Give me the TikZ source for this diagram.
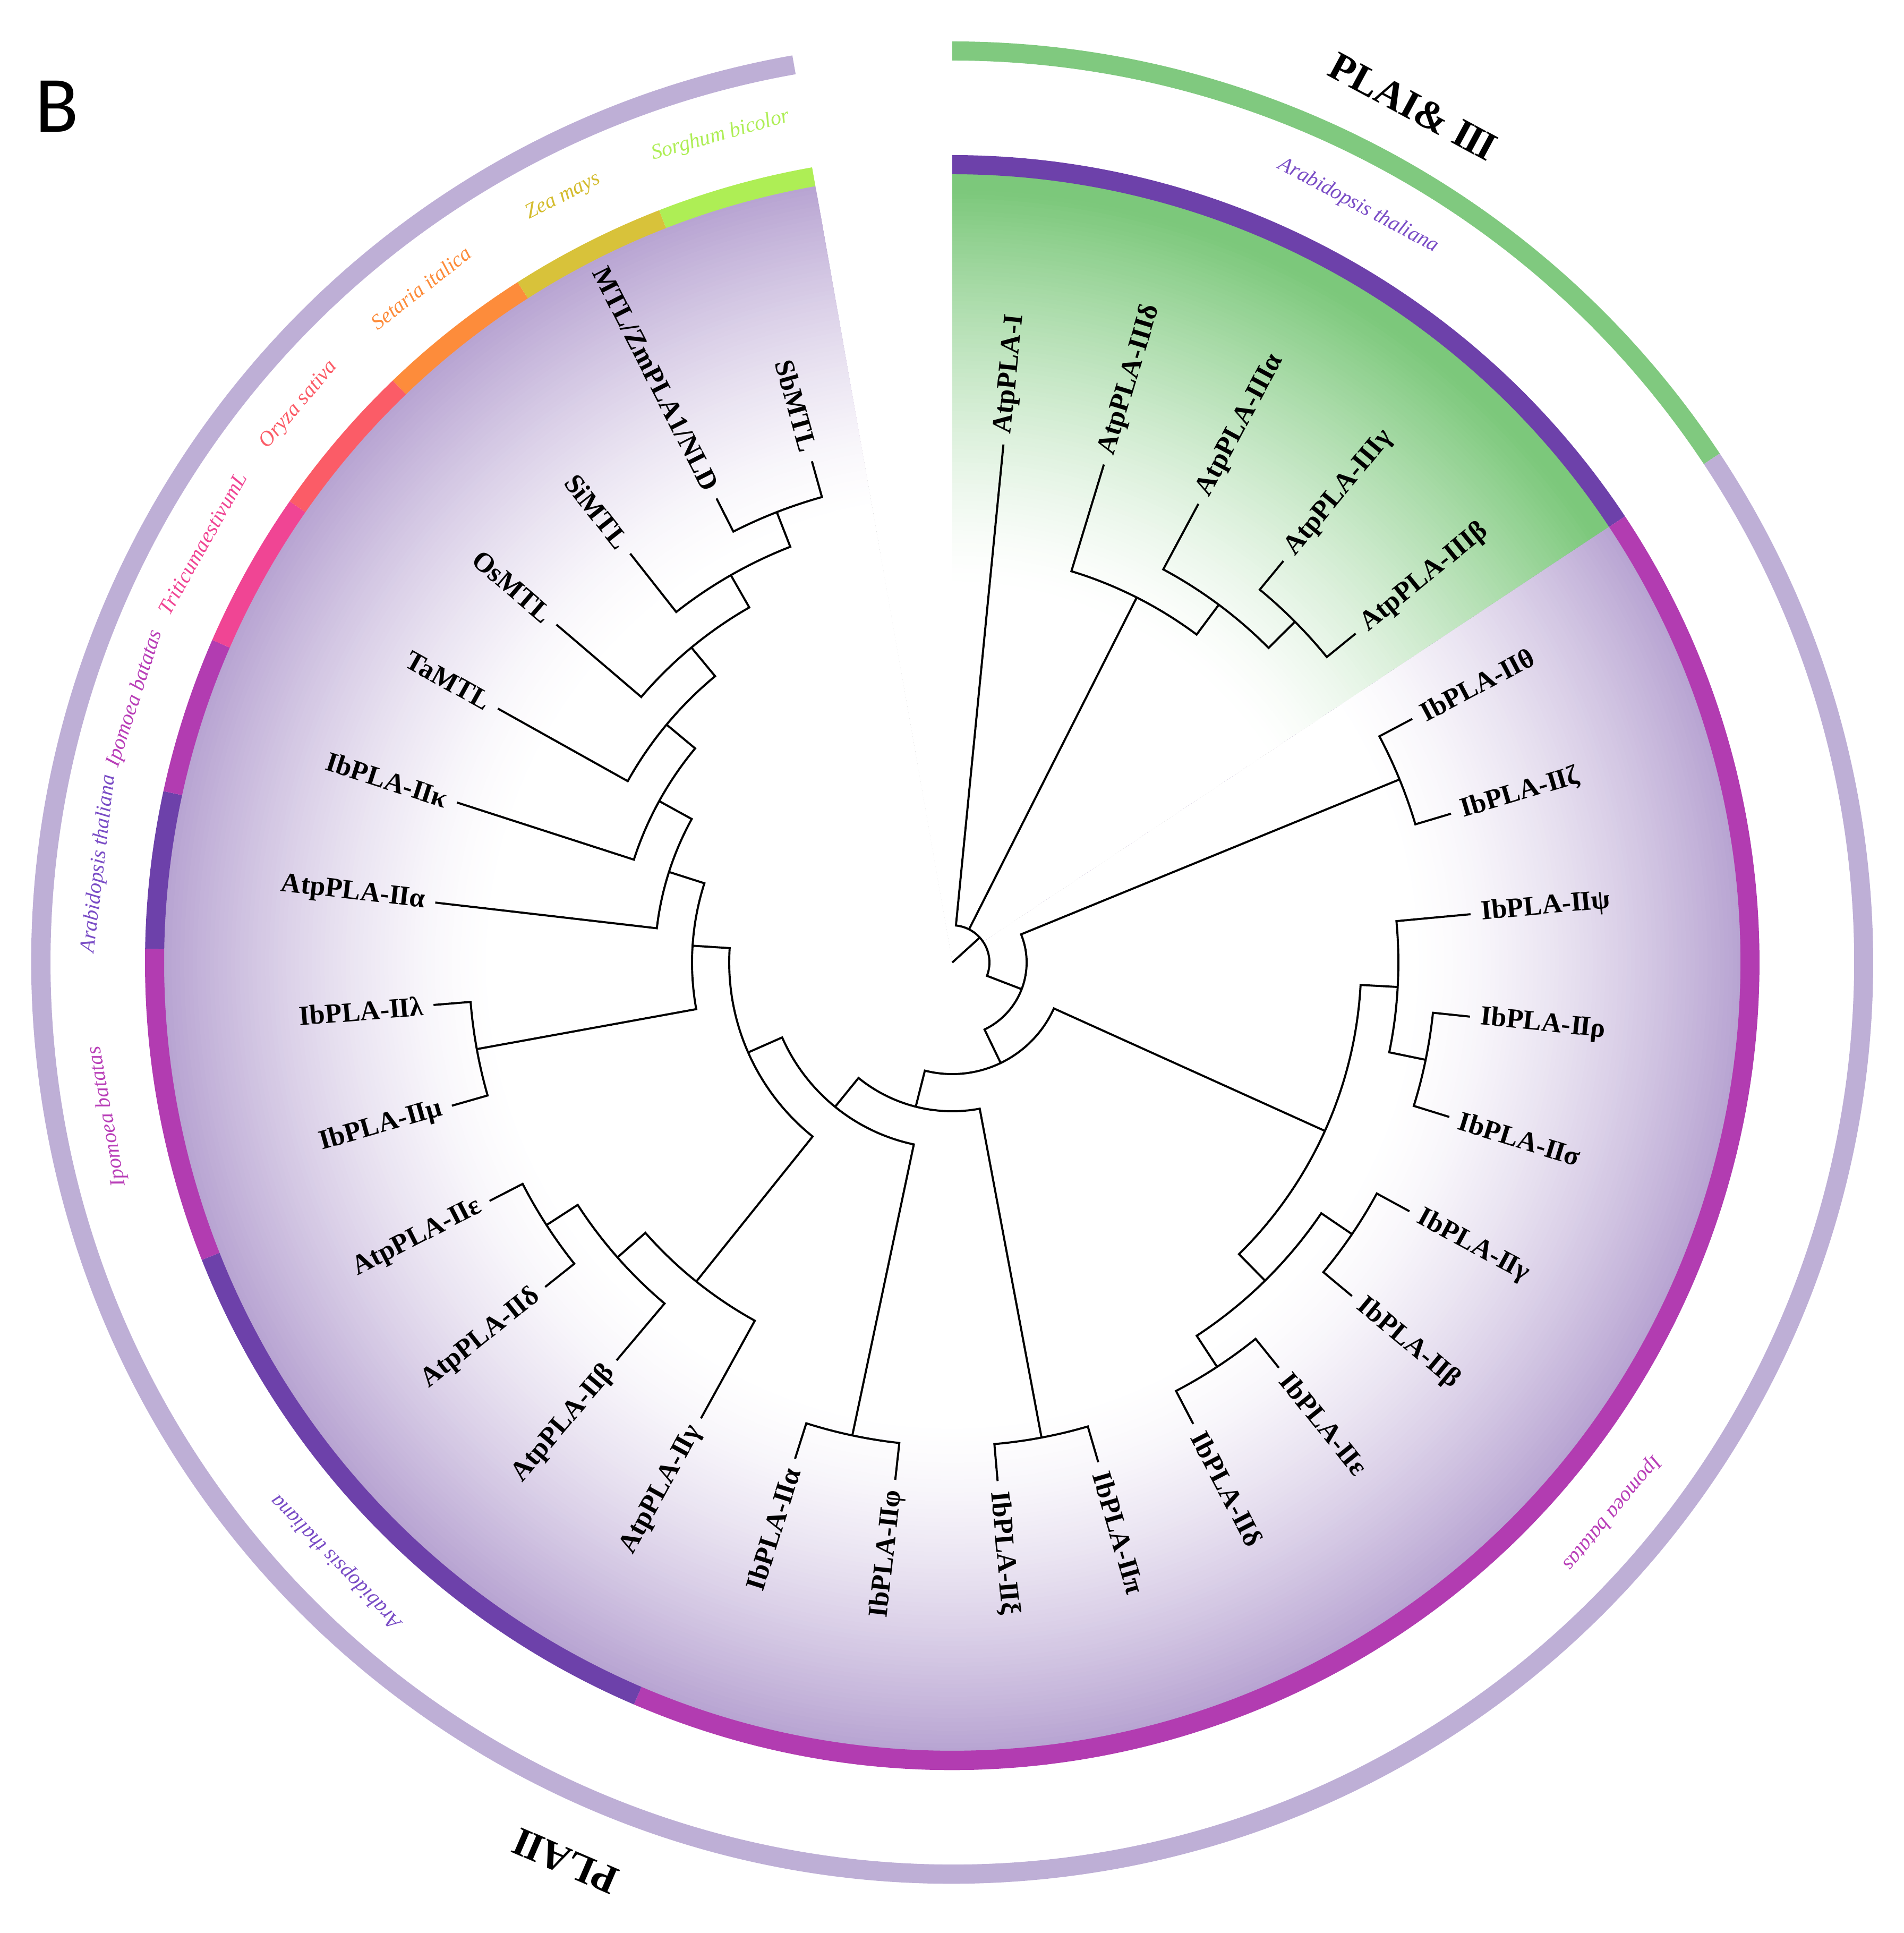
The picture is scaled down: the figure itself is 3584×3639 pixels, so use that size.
\documentclass[tikz,border=0pt]{standalone}
\usepackage{fontspec}
\setmainfont{Liberation Serif}
\newfontfamily\bfont{Carlito}

\definecolor{cAra}{HTML}{6D41AA}
\definecolor{cIpo}{HTML}{B23CB1}
\definecolor{cTri}{HTML}{F04594}
\definecolor{cOry}{HTML}{FB5C67}
\definecolor{cSet}{HTML}{FD8C3B}
\definecolor{cZea}{HTML}{D8C23A}
\definecolor{cSor}{HTML}{AEEE55}
\definecolor{cOutG}{HTML}{80C97F}
\definecolor{cOutP}{HTML}{BEAFD6}
\definecolor{cFillG}{HTML}{7CC87B}
\definecolor{cFillP}{HTML}{B8A4D2}
\definecolor{tAra}{HTML}{7A4DC6}
\definecolor{tIpo}{HTML}{B93FB8}
\definecolor{tZea}{HTML}{D4BC2E}

\newcommand\RomII{I\kern-0.05em I}
\newcommand\RomIII{I\kern-0.05em I\kern-0.05em I}
\newcommand\leaffont{\bfseries\fontsize{52}{60}\selectfont}
\newcommand\ringfont{\itshape\fontsize{40}{48}\selectfont}
\newcommand\bigfont{\bfseries\fontsize{76}{90}\selectfont}

% clade: angle1, radius1 (end of child 1), angle2, radius2, node radius
\newcommand\clade[5]{\draw[tree] (#1:#2) -- (#1:#5) arc[start angle=#1, end angle=#3, radius=#5] -- (#3:#4);}
% annular sector: colour, a1, a2, r_in, r_out
\newcommand\annseg[5]{\fill[#1] (#2:#4) arc[start angle=#2, end angle=#3, radius=#4] -- (#3:#5) arc[start angle=#3, end angle=#2, radius=#5] -- cycle;}

\tikzset{
  tree/.style={line width=3.9pt, line join=miter, line cap=butt, black},
  lblR/.style={anchor=west, inner sep=0pt, font=\leaffont},
  lblL/.style={anchor=east, inner sep=0pt, font=\leaffont},
  ringlbl/.style={anchor=center, inner sep=0pt, font=\ringfont},
  biglbl/.style={anchor=center, inner sep=0pt, font=\bigfont}
}

\begin{document}
\begin{tikzpicture}[x=1pt, y=1pt]
\useasboundingbox (-1793,-1827) rectangle (1791,1812);

% ---------- background sectors (radial fades built from rings) ----------
\begin{scope}
  \clip (0,0) -- (90:1486) arc[start angle=90, end angle=33.548, radius=1486] -- cycle;
  \foreach \k in {0,...,98} {
    \pgfmathsetmacro\rr{1486-8*\k}
    \pgfmathsetmacro\ff{min(100,100*pow(max(0,(\rr/1486-0.48)/0.5),1.4))}
    \fill[cFillG!\ff!white] (0,0) circle (\rr);
  }
\end{scope}
\begin{scope}
  \clip (0,0) -- (33.548:1486) arc[start angle=33.548, end angle=-260, radius=1486] -- cycle;
  \foreach \k in {0,...,80} {
    \pgfmathsetmacro\rr{1486-8*\k}
    \pgfmathsetmacro\ff{min(100,100*pow(max(0,(\rr/1486-0.58)/0.42),1.5))}
    \fill[cFillP!\ff!white] (0,0) circle (\rr);
  }
\end{scope}

% ---------- inner species ring ----------
\annseg{cAra}{90}{33.548}{1484}{1520}
\annseg{cIpo}{33.548}{-113.226}{1484}{1520}
\annseg{cAra}{-113.226}{-158.387}{1484}{1520}
\annseg{cIpo}{-158.387}{-180.968}{1484}{1520}
\annseg{cAra}{-180.968}{-192.258}{1484}{1520}
\annseg{cIpo}{-192.258}{-203.548}{1484}{1520}
\annseg{cTri}{-203.548}{-214.839}{1484}{1520}
\annseg{cOry}{-214.839}{-226.129}{1484}{1520}
\annseg{cSet}{-226.129}{-237.419}{1484}{1520}
\annseg{cZea}{-237.419}{-248.710}{1484}{1520}
\annseg{cSor}{-248.710}{-260}{1484}{1520}

% ---------- outer group ring ----------
\annseg{cOutG}{90}{33.548}{1698}{1734}
\annseg{cOutP}{33.548}{-260}{1698}{1734}

% ---------- ring labels ----------
\node[ringlbl, text=tAra, rotate=-28.226] (sA1) at (61.774:1617) {Arabidopsis thaliana};
\node[ringlbl, text=tIpo, rotate=-129.839] (sI1) at (-39.839:1617) {Ipomoea batatas};
\node[ringlbl, text=tAra, rotate=-225.806] (sA2) at (-135.806:1617) {Arabidopsis thaliana};
\node[ringlbl, text=tIpo, rotate=-259.677] (sI2) at (-169.677:1617) {Ipomoea batatas};
\node[ringlbl, text=tAra, rotate=-276.613] (sA3) at (-186.613:1617) {Arabidopsis thaliana};
\node[ringlbl, text=tIpo, rotate=-287.903] (sI3) at (-197.903:1617) {Ipomoea batatas};
\node[ringlbl, text=cTri, rotate=-299.194] (sT) at (-209.194:1617) {TriticumaestivumL};
\node[ringlbl, text=cOry, rotate=-310.484] (sO) at (-220.484:1617) {Oryza sativa};
\node[ringlbl, text=cSet, rotate=-321.774] (sS) at (-231.774:1617) {Setaria italica};
\node[ringlbl, text=tZea, rotate=-333.065] (sZ) at (-243.065:1617) {Zea mays};
\node[ringlbl, text=cSor, rotate=-344.355] (sB) at (-254.355:1617) {Sorghum bicolor};

% ---------- group labels ----------
\node[biglbl, rotate=-28.3] (g1) at (61.7:1830) {PLAI\& \RomIII};
\node[biglbl, rotate=-203.3] (g2) at (-113.3:1842) {PLA\RomII};
\node[anchor=center, inner sep=0pt, font=\bfont\fontsize{150}{170}\selectfont] (panel) at (-1686,1612) {B};

% ---------- tree ----------
\draw[tree] (0,0) -- (42.18:70);
\clade{84.355}{980}{-21.005}{140}{70}
\draw[tree] (63.186:70) -- (63.186:770);
\clade{73.065}{980}{53.307}{840}{770}
\clade{61.774}{980}{44.839}{910}{840}
\clade{50.484}{980}{39.194}{980}{910}
\clade{22.258}{910}{-64.267}{210}{140}
\clade{27.903}{980}{16.613}{980}{910}
\clade{-24.315}{770}{-104.218}{280}{210}
\clade{-3.145}{840}{-45.484}{840}{770}
\clade{5.323}{980}{-11.613}{910}{840}
\clade{-5.968}{980}{-17.258}{980}{910}
\clade{-34.194}{910}{-56.774}{910}{840}
\clade{-28.548}{980}{-39.839}{980}{910}
\clade{-51.129}{980}{-62.419}{980}{910}
\clade{-79.355}{910}{-129.081}{350}{280}
\clade{-73.710}{980}{-85.000}{980}{910}
\clade{-101.936}{910}{-156.227}{420}{350}
\clade{-96.290}{980}{-107.581}{980}{910}
\clade{-128.75}{770}{-183.703}{490}{420}
\clade{-118.871}{980}{-138.629}{840}{770}
\clade{-130.161}{980}{-147.097}{910}{840}
\clade{-141.452}{980}{-152.742}{980}{910}
\clade{-169.678}{910}{-197.727}{560}{490}
\clade{-164.032}{980}{-175.323}{980}{910}
\clade{-186.613}{980}{-208.841}{630}{560}
\clade{-197.903}{980}{-219.779}{700}{630}
\clade{-209.194}{980}{-230.363}{770}{700}
\clade{-220.484}{980}{-240.242}{840}{770}
\clade{-231.774}{980}{-248.71}{910}{840}
\clade{-243.065}{980}{-254.355}{980}{910}

% ---------- leaf labels ----------
\node[lblR, rotate=84.355] (l0) at (84.355:1000) {AtpPLA-I};
\node[lblR, rotate=73.065] (l1) at (73.065:1000) {AtpPLA-IIIδ};
\node[lblR, rotate=61.774] (l2) at (61.774:1000) {AtpPLA-IIIα};
\node[lblR, rotate=50.484] (l3) at (50.484:1000) {AtpPLA-IIIγ};
\node[lblR, rotate=39.194] (l4) at (39.194:1000) {AtpPLA-IIIβ};
\node[lblR, rotate=27.903] (l5) at (27.903:1000) {IbPLA-\RomII θ};
\node[lblR, rotate=16.613] (l6) at (16.613:1000) {IbPLA-\RomII ζ};
\node[lblR, rotate=5.323] (l7) at (5.323:1000) {IbPLA-\RomII ψ};
\node[lblR, rotate=-5.968] (l8) at (-5.968:1000) {IbPLA-\RomII ρ};
\node[lblR, rotate=-17.258] (l9) at (-17.258:1000) {IbPLA-\RomII σ};
\node[lblR, rotate=-28.548] (l10) at (-28.548:1000) {IbPLA-\RomII γ};
\node[lblR, rotate=-39.839] (l11) at (-39.839:1000) {IbPLA-\RomII β};
\node[lblR, rotate=-51.129] (l12) at (-51.129:1000) {IbPLA-\RomII ε};
\node[lblR, rotate=-62.419] (l13) at (-62.419:1000) {IbPLA-\RomII δ};
\node[lblR, rotate=-73.710] (l14) at (-73.710:1000) {IbPLA-\RomII π};
\node[lblR, rotate=-85.000] (l15) at (-85.000:1000) {IbPLA-\RomII ξ};
\node[lblL, rotate=83.710] (l16) at (-96.290:1000) {IbPLA-\RomII φ};
\node[lblL, rotate=72.419] (l17) at (-107.581:1000) {IbPLA-\RomII α};
\node[lblL, rotate=61.129] (l18) at (-118.871:1000) {AtpPLA-\RomII γ};
\node[lblL, rotate=49.839] (l19) at (-130.161:1000) {AtpPLA-\RomII β};
\node[lblL, rotate=38.548] (l20) at (-141.452:1000) {AtpPLA-\RomII δ};
\node[lblL, rotate=27.258] (l21) at (-152.742:1000) {AtpPLA-\RomII ε};
\node[lblL, rotate=15.968] (l22) at (-164.032:1000) {IbPLA-\RomII μ};
\node[lblL, rotate=4.677] (l23) at (-175.323:1000) {IbPLA-\RomII λ};
\node[lblL, rotate=-6.613] (l24) at (-186.613:1000) {AtpPLA-\RomII α};
\node[lblL, rotate=-17.903] (l25) at (-197.903:1000) {IbPLA-\RomII κ};
\node[lblL, rotate=-29.194] (l26) at (-209.194:1000) {TaMTL};
\node[lblL, rotate=-40.484] (l27) at (-220.484:1000) {OsMTL};
\node[lblL, rotate=-51.774] (l28) at (-231.774:1000) {SiMTL};
\node[lblL, rotate=-63.065] (l29) at (-243.065:1000) {MTL/ZmPLA1/NLD};
\node[lblL, rotate=-74.355] (l30) at (-254.355:1000) {SbMTL};
\end{tikzpicture}
\end{document}
